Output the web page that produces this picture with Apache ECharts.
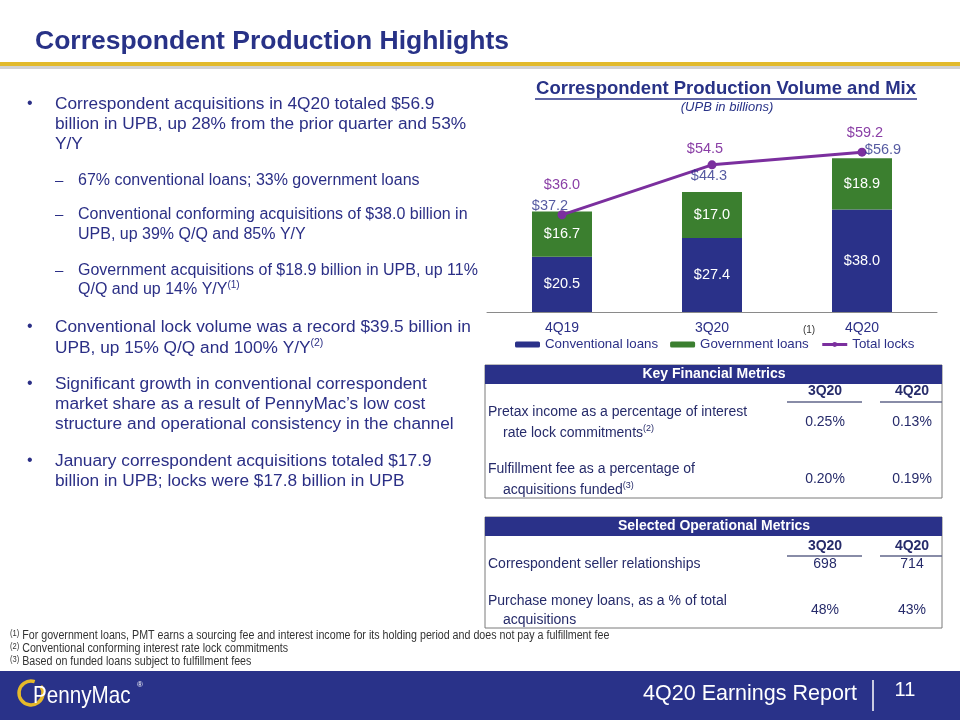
<!DOCTYPE html>
<html>
<head>
<meta charset="utf-8">
<script src="https://cdn.jsdelivr.net/npm/echarts@6/dist/echarts.min.js"></script>
<style>
  html, body { margin: 0; padding: 0; background: #fff; }
  #chart { width: 960px; height: 720px; }
</style>
</head>
<body>
<div id="chart"></div>
<script>
// chart data
const quarters = ['4Q19', '3Q20', '4Q20']
const conventional = [20.5, 27.4, 38.0]
const government = [16.7, 17.0, 18.9]
const totals = [37.2, 44.3, 56.9]
const totalLocks = [36.0, 54.5, 59.2]

// table data
const tableQuarters = ['3Q20', '4Q20']
const pretaxIncome = ['0.25%', '0.13%']
const fulfillmentFee = ['0.20%', '0.19%']
const sellerRelationships = ['698', '714']
const purchaseMoney = ['48%', '43%']

// label nudges (px) so the labels sit like in the slide
const totalLabelOffsets = [[-12, -6], [-3, -16], [21, -8]]
const lockLabelOffsets = [[0, -30], [-7, -16], [3, -19]]

const NAVY = '#2A3189'
const GREEN = '#3B7F2F'
const PURPLE = '#7B2F9E'
const TEXT = '#2B2F86'
const TABLE_TEXT = '#262B6A'
const FONT = '"Liberation Sans", Arial, sans-serif'

function txt(x, y, str, opt, extra) {
  return Object.assign({
    type: 'text', x: x, y: y, silent: true,
    style: Object.assign({
      text: str, fill: TEXT, fontSize: 17.3, fontFamily: FONT,
      align: 'left', verticalAlign: 'middle'
    }, opt || {})
  }, extra || {})
}
// text followed by a superscript note
function supTxt(x, y, str, note, size, color, noteSize) {
  return txt(x, y, '{a|' + str + '}{s|' + note + '}', {
    rich: {
      a: { fontSize: size, fontFamily: FONT, fill: color, lineHeight: size + 4 },
      s: { fontSize: noteSize || 10, fontFamily: FONT, fill: color, verticalAlign: 'top', lineHeight: size + 4 }
    }
  })
}
function rect(x, y, w, h, style) {
  return { type: 'rect', silent: true, shape: { x: x, y: y, width: w, height: h }, style: style }
}
function line(x1, y1, x2, y2, color, width) {
  return { type: 'line', silent: true, shape: { x1: x1, y1: y1, x2: x2, y2: y2 }, style: { stroke: color, lineWidth: width || 1 } }
}

const graphics = []

// slide title + gold rule
graphics.push(txt(35, 42, 'Correspondent Production Highlights', { fontSize: 26.5, fontWeight: 'bold', fill: '#283287' }))
graphics.push(rect(0, 66, 960, 3, { fill: '#D2D2D2' }))
graphics.push(rect(0, 62, 960, 4, { fill: '#E2BA2C' }))

// bullets
const bulletX = 27, textX = 55, dashX = 55, subX = 78
const B = 17.3   // main bullet size
const S = 16     // sub bullet size
function bullet(y) { graphics.push(txt(bulletX, y, '•', { fontSize: 16 })) }
function dash(y) { graphics.push(txt(dashX, y, '–', { fontSize: 15 })) }
function sub(y, str) { graphics.push(txt(subX, y, str, { fontSize: S })) }

bullet(104)
graphics.push(txt(textX, 104, 'Correspondent acquisitions in 4Q20 totaled $56.9'))
graphics.push(txt(textX, 124, 'billion in UPB, up 28% from the prior quarter and 53%'))
graphics.push(txt(textX, 144, 'Y/Y'))
dash(181)
sub(181, '67% conventional loans; 33% government loans')
dash(215)
sub(215, 'Conventional conforming acquisitions of $38.0 billion in')
sub(235, 'UPB, up 39% Q/Q and 85% Y/Y')
dash(271)
sub(271, 'Government acquisitions of $18.9 billion in UPB, up 11%')
graphics.push(supTxt(subX, 290, 'Q/Q and up 14% Y/Y', '(1)', S, TEXT, 10))
bullet(327)
graphics.push(txt(textX, 327, 'Conventional lock volume was a record $39.5 billion in'))
graphics.push(supTxt(textX, 348, 'UPB, up 15% Q/Q and 100% Y/Y', '(2)', B, TEXT, 10.5))
bullet(384)
graphics.push(txt(textX, 384, 'Significant growth in conventional correspondent'))
graphics.push(txt(textX, 404, 'market share as a result of PennyMac\u2019s low cost'))
graphics.push(txt(textX, 424, 'structure and operational consistency in the channel'))
bullet(461)
graphics.push(txt(textX, 461, 'January correspondent acquisitions totaled $17.9'))
graphics.push(txt(textX, 481, 'billion in UPB; locks were $17.8 billion in UPB'))

// chart heading
graphics.push(txt(726, 89, 'Correspondent Production Volume and Mix', { fontSize: 18.5, fontWeight: 'bold', fill: '#283287', align: 'center' }))
graphics.push(line(535, 99, 917, 99, '#283287', 1.3))
graphics.push(txt(727, 107, '(UPB in billions)', { fontSize: 13, fontStyle: 'italic', fill: '#283287', align: 'center' }))
graphics.push(txt(809, 330, '(1)', { fontSize: 10, fill: '#333', align: 'center' }))

// tables
const colX = [825, 912]
function table(top, bottom, title, headY, underY) {
  graphics.push(rect(485, top, 457, bottom - top, { fill: 'none', stroke: '#7A7A7A', lineWidth: 1 }))
  graphics.push(rect(485, top, 457, 19, { fill: NAVY }))
  graphics.push(txt(714, top + 9.5, title, { fontSize: 14, fontWeight: 'bold', fill: '#fff', align: 'center' }))
  tableQuarters.forEach(function (q, i) {
    graphics.push(txt(colX[i], headY, q, { fontSize: 14, fontWeight: 'bold', fill: TABLE_TEXT, align: 'center' }))
  })
  graphics.push(line(787, underY, 862, underY, '#60668A', 1.5))
  graphics.push(line(880, underY, 942, underY, '#60668A', 1.5))
}
function values(arr, y) {
  arr.forEach(function (v, i) {
    graphics.push(txt(colX[i], y, v, { fontSize: 14, fill: TABLE_TEXT, align: 'center' }))
  })
}

table(365, 498, 'Key Financial Metrics', 391, 402)
graphics.push(txt(488, 412, 'Pretax income as a percentage of interest', { fontSize: 14, fill: TABLE_TEXT }))
graphics.push(supTxt(503, 433, 'rate lock commitments', '(2)', 14, TABLE_TEXT, 9))
values(pretaxIncome, 422)
graphics.push(txt(488, 469, 'Fulfillment fee as a percentage of', { fontSize: 14, fill: TABLE_TEXT }))
graphics.push(supTxt(503, 490, 'acquisitions funded', '(3)', 14, TABLE_TEXT, 9))
values(fulfillmentFee, 479)

table(517, 628, 'Selected Operational Metrics', 546, 556)
graphics.push(txt(488, 564, 'Correspondent seller relationships', { fontSize: 14, fill: TABLE_TEXT }))
values(sellerRelationships, 564)
graphics.push(txt(488, 601, 'Purchase money loans, as a % of total', { fontSize: 14, fill: TABLE_TEXT }))
graphics.push(txt(503, 620, 'acquisitions', { fontSize: 14, fill: TABLE_TEXT }))
values(purchaseMoney, 610)

// footnotes (condensed like the slide)
function footnote(y, note, str) {
  graphics.push(txt(10, y, '{s|' + note + '}{a| ' + str + '}', {
    rich: {
      a: { fontSize: 12, fontFamily: FONT, fill: '#333', lineHeight: 13 },
      s: { fontSize: 8.5, fontFamily: FONT, fill: '#333', verticalAlign: 'top', lineHeight: 13 }
    }
  }, { scaleX: 0.89 }))
}
footnote(636, '(1)', 'For government loans, PMT earns a sourcing fee and interest income for its holding period and does not pay a fulfillment fee')
footnote(649, '(2)', 'Conventional conforming interest rate lock commitments')
footnote(662, '(3)', 'Based on funded loans subject to fulfillment fees')

// footer band
graphics.push(rect(0, 671, 960, 49, { fill: '#293289' }))
graphics.push({
  type: 'arc', silent: true,
  shape: { cx: 31, cy: 693, r: 12, startAngle: -0.2 * Math.PI, endAngle: 1.6 * Math.PI },
  style: { stroke: '#E5B92A', lineWidth: 3.5, fill: 'none' }
})
graphics.push(txt(33, 696, 'PennyMac', { fontSize: 24, fill: '#fff' }, { scaleX: 0.86 }))
graphics.push(txt(137, 685, '®', { fontSize: 8, fill: '#fff' }))
graphics.push(txt(857, 694, '4Q20 Earnings Report', { fontSize: 21.5, fill: '#fff', align: 'right' }))
graphics.push(line(873, 680, 873, 711, '#fff', 1.5))
graphics.push(txt(905, 690, '11', { fontSize: 20, fill: '#fff', align: 'center' }))

const myChart = echarts.init(document.getElementById('chart'))
const money = (v) => '$' + v.toFixed(1)

let option = {
  animation: false,
  textStyle: { fontFamily: FONT },
  grid: { left: 487, right: 23, top: 150, height: 162 },
  legend: {
    data: [
      { name: 'Conventional loans' },
      { name: 'Government loans' },
      { name: 'Total locks', lineStyle: { width: 3 } }
    ],
    left: 510,
    top: 333,
    itemWidth: 25,
    itemHeight: 6,
    itemGap: 12,
    textStyle: { fontSize: 13.3, color: TEXT }
  },
  xAxis: {
    type: 'category',
    data: quarters,
    axisLine: { lineStyle: { color: '#8A8A8A', width: 1 } },
    axisTick: { length: 5, lineStyle: { color: '#8A8A8A' } },
    axisLabel: { fontSize: 14, color: TEXT, margin: 9 }
  },
  yAxis: { type: 'value', min: 0, max: 60, show: false },
  series: [
    {
      name: 'Conventional loans',
      type: 'bar',
      stack: 'volume',
      barWidth: 60,
      itemStyle: { color: NAVY },
      label: { show: true, position: 'inside', color: '#fff', fontSize: 14.5, formatter: (p) => money(p.value) },
      data: conventional
    },
    {
      name: 'Government loans',
      type: 'bar',
      stack: 'volume',
      barWidth: 60,
      itemStyle: { color: GREEN },
      label: { show: true, position: 'inside', color: '#fff', fontSize: 14.5, formatter: (p) => money(p.value) },
      data: government
    },
    {
      name: 'Totals',
      type: 'scatter',
      symbolSize: 1,
      itemStyle: { color: 'rgba(0,0,0,0)' },
      silent: true,
      z: 5,
      data: totals.map((v, i) => ({
        value: v,
        label: { show: true, position: 'inside', offset: totalLabelOffsets[i], color: '#2A3189', fontSize: 14.5, formatter: () => money(v) }
      }))
    },
    {
      name: 'Total locks',
      type: 'line',
      symbol: 'circle',
      symbolSize: 9,
      z: 4,
      itemStyle: { color: PURPLE },
      lineStyle: { color: PURPLE, width: 3 },
      data: totalLocks.map((v, i) => ({
        value: v,
        label: { show: true, position: 'inside', offset: lockLabelOffsets[i], color: '#8A3FA6', fontSize: 14.5, formatter: () => money(v) }
      }))
    }
  ],
  graphic: graphics
}
option && myChart.setOption(option)
</script>
</body>
</html>
